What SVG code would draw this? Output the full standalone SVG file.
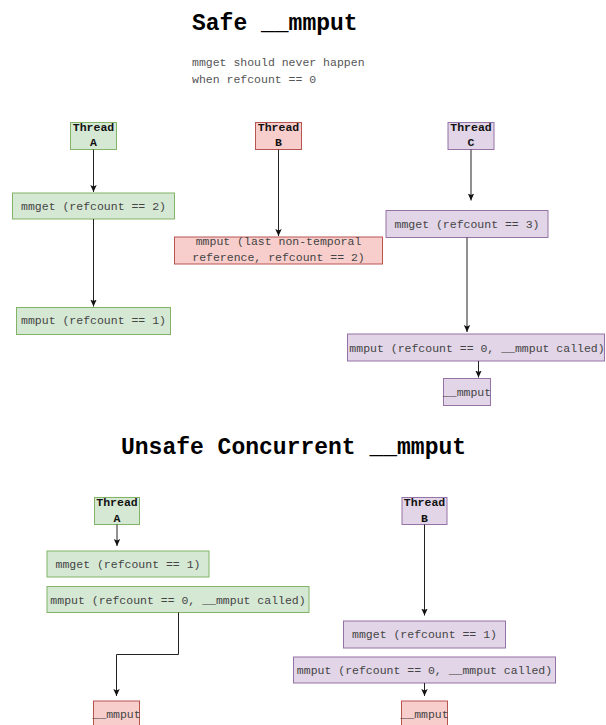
<svg xmlns="http://www.w3.org/2000/svg" width="606" height="725" viewBox="0 0 606 725">
  <defs>
    <marker id="arrow" markerUnits="userSpaceOnUse" markerWidth="8" markerHeight="8" viewBox="0 0 8 8" refX="7" refY="4" orient="auto">
      <path d="M0,0.8 L7,4 L0,7.2 L1.6,4 Z" fill="#111"/>
    </marker>
  </defs>
  <style>
    .title { font-family: "Liberation Mono", "Courier New", monospace; font-size: 23px; font-weight: bold; fill: #000; }
    .note { font-family: "Liberation Mono", "Courier New", monospace; font-size: 11.5px; fill: #555; }
    .label { font-family: "Liberation Mono", "Courier New", monospace; font-size: 11.5px; fill: #444; text-anchor: middle; }
    .thread { font-family: "Liberation Mono", "Courier New", monospace; font-size: 11.5px; font-weight: bold; fill: #111; text-anchor: middle; }
    .green { fill: #d5e8d4; stroke: #82b366; stroke-width: 1; }
    .red { fill: #f8cecc; stroke: #b85450; stroke-width: 1; }
    .purple { fill: #e1d5e7; stroke: #9673a6; stroke-width: 1; }
    .edge { fill: none; stroke: #222; stroke-width: 1; marker-end: url(#arrow); }
  </style>
  <rect width="606" height="725" fill="#fff"/>

  <!-- Section 1: safe __mmput -->
  <text class="title" x="192" y="30">Safe __mmput</text>
  <text class="note" x="192" y="66">mmget should never happen</text>
  <text class="note" x="192" y="82.5">when refcount == 0</text>

  <g id="safe-thread-a">
    <rect class="green" x="70.5" y="122.5" width="46" height="27"/>
    <text class="thread" x="93.5" y="130.5">Thread</text>
    <text class="thread" x="93.5" y="146">A</text>
  </g>
  <g id="safe-a-mmget">
    <rect class="green" x="12.5" y="193" width="162" height="26"/>
    <text class="label" x="93.5" y="210">mmget (refcount == 2)</text>
  </g>
  <g id="safe-a-mmput">
    <rect class="green" x="16.5" y="307.5" width="154" height="27"/>
    <text class="label" x="93.5" y="324">mmput (refcount == 1)</text>
  </g>

  <g id="safe-thread-b">
    <rect class="red" x="255.5" y="122.5" width="46" height="27"/>
    <text class="thread" x="278.5" y="130.5">Thread</text>
    <text class="thread" x="278.5" y="146">B</text>
  </g>
  <g id="safe-b-mmput">
    <rect class="red" x="174.5" y="237" width="208" height="27"/>
    <text class="label" x="278.5" y="245">mmput (last non-temporal</text>
    <text class="label" x="278.5" y="260.5">reference, refcount == 2)</text>
  </g>

  <g id="safe-thread-c">
    <rect class="purple" x="448" y="122.5" width="46" height="27"/>
    <text class="thread" x="471" y="130.5">Thread</text>
    <text class="thread" x="471" y="146">C</text>
  </g>
  <g id="safe-c-mmget">
    <rect class="purple" x="386" y="210.5" width="162" height="27"/>
    <text class="label" x="467" y="227.5">mmget (refcount == 3)</text>
  </g>
  <g id="safe-c-mmput">
    <rect class="purple" x="347.5" y="334" width="257" height="27"/>
    <text class="label" x="477" y="351.5">mmput (refcount == 0, __mmput called)</text>
  </g>
  <g id="safe-c-free">
    <rect class="purple" x="443.5" y="378.5" width="47" height="27"/>
    <text class="label" x="467" y="395.5">__mmput</text>
  </g>

  <!-- Section 2: unsafe concurrent __mmput -->
  <text class="title" x="121" y="454">Unsafe Concurrent __mmput</text>

  <g id="unsafe-thread-a">
    <rect class="green" x="94.5" y="497.5" width="45" height="27"/>
    <text class="thread" x="117" y="506">Thread</text>
    <text class="thread" x="117" y="521.5">A</text>
  </g>
  <g id="unsafe-a-mmget">
    <rect class="green" x="47" y="551" width="162" height="26"/>
    <text class="label" x="128" y="568">mmget (refcount == 1)</text>
  </g>
  <g id="unsafe-a-mmput">
    <rect class="green" x="47" y="586.5" width="262" height="26"/>
    <text class="label" x="178" y="603.5">mmput (refcount == 0, __mmput called)</text>
  </g>
  <g id="unsafe-a-free">
    <rect class="red" x="93.5" y="701" width="46" height="27"/>
    <text class="label" x="116.5" y="718">__mmput</text>
  </g>

  <g id="unsafe-thread-b">
    <rect class="purple" x="402" y="497.5" width="45" height="27"/>
    <text class="thread" x="424.5" y="506">Thread</text>
    <text class="thread" x="424.5" y="521.5">B</text>
  </g>
  <g id="unsafe-b-mmget">
    <rect class="purple" x="343.5" y="621" width="162" height="27"/>
    <text class="label" x="424.5" y="638">mmget (refcount == 1)</text>
  </g>
  <g id="unsafe-b-mmput">
    <rect class="purple" x="293.5" y="657" width="262" height="26"/>
    <text class="label" x="424.5" y="674">mmput (refcount == 0, __mmput called)</text>
  </g>
  <g id="unsafe-b-free">
    <rect class="red" x="401.5" y="701" width="46" height="27"/>
    <text class="label" x="424.5" y="718">__mmput</text>
  </g>

  <!-- Connectors -->
  <g id="connectors">
    <path class="edge" d="M93.5,149.5 V192"/>
    <path class="edge" d="M93.5,219 V306.5"/>
    <path class="edge" d="M278.5,149.5 V236"/>
    <path class="edge" d="M471,149.5 V200.5"/>
    <path class="edge" d="M467,237.5 V332"/>
    <path class="edge" d="M478.5,361 V377.5"/>
    <path class="edge" d="M117,524.5 V546"/>
    <path class="edge" d="M178.5,612.5 V654.5 H116.5 V696"/>
    <path class="edge" d="M424.5,524.5 V615.5"/>
    <path class="edge" d="M424.5,683 V696"/>
  </g>
</svg>
